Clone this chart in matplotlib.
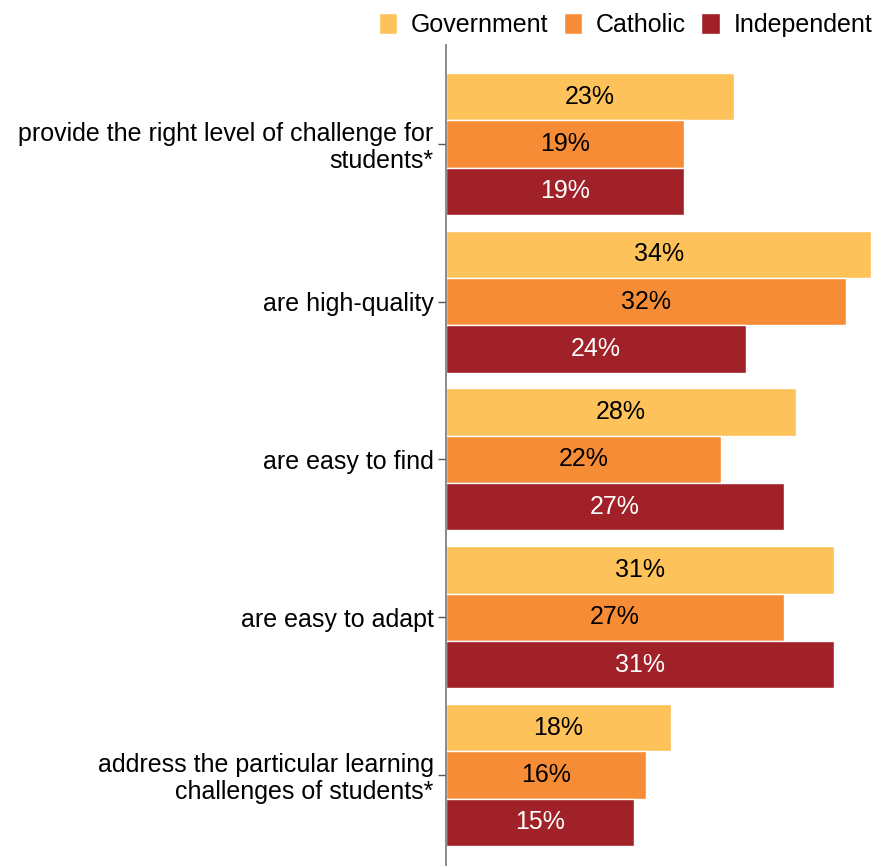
import matplotlib.pyplot as plt
import numpy as np

plt.rcParams["font.family"] = ["Liberation Sans", "DejaVu Sans"]

statements = [
    "provide the right level of challenge for\nstudents*",
    "are high-quality",
    "are easy to find",
    "are easy to adapt",
    "address the particular learning\nchallenges of students*",
]
sectors = ["Government", "Catholic", "Independent"]
government = [23, 34, 28, 31, 18]
catholic = [19, 32, 22, 27, 16]
independent = [19, 24, 27, 31, 15]

colours = ["#FEC25A", "#F68D36", "#A02127"]
text_colours = ["black", "black", "white"]

fig = plt.figure(figsize=(8.85, 8.66), dpi=100)
ax = fig.add_axes([446 / 885, 0.0, 1 - 446 / 885, 1 - 45 / 866])

y = np.arange(len(statements))
h = 0.3
for i, (vals, col, tcol) in enumerate(zip([government, catholic, independent], colours, text_colours)):
    pos = y - h + i * h
    bars = ax.barh(pos, vals, height=h, color=col, edgecolor="white", linewidth=1, label=sectors[i])
    for b, v in zip(bars, vals):
        ax.text(v / 2, b.get_y() + b.get_height() / 2, f"{v}%", ha="center", va="center",
                color=tcol, fontsize=18)

ax.set_ylim(4.577, -0.627)
ax.set_xlim(0, 35.1)
ax.set_yticks(y)
ax.set_yticklabels(statements, fontsize=18, linespacing=1.12, ha="right")
ax.set_xticks([])
for s in ["top", "right", "bottom"]:
    ax.spines[s].set_visible(False)
ax.spines["left"].set_color("#777777")
ax.spines["left"].set_linewidth(1.2)
ax.tick_params(axis="y", length=6, color="#555555", width=1, pad=3)

fig.legend(loc="upper right", bbox_to_anchor=(1.0, 1.0), ncol=3, frameon=False, fontsize=18,
           handlelength=0.75, handleheight=0.95, handletextpad=0.55, columnspacing=0.6,
           borderaxespad=0.1)

fig.savefig("out.png", dpi=100)
